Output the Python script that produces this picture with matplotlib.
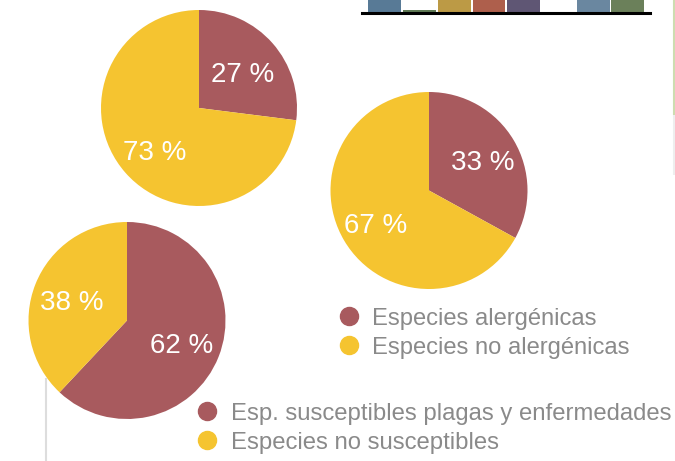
import matplotlib
matplotlib.use("Agg")
import matplotlib.pyplot as plt
from matplotlib.lines import Line2D

plt.rcParams['font.family'] = ['Liberation Sans', 'DejaVu Sans']

W, H = 675, 461

# Pie data (percent): first value red, second yellow
pie_alerg_a = [27, 73]
pie_alerg_b = [33, 67]
pie_plagas = [62, 38]

legend_alerg = ["Especies alergénicas", "Especies no alergénicas"]
legend_plagas = ["Esp. susceptibles plagas y enfermedades", "Especies no susceptibles"]

RED = "#a85a5e"
YEL = "#f5c430"
TXT = "#8a8a8a"

# Fragment of a bar chart at top (cut by figure edge)
bar_cats = [0, 1, 2, 3, 4, 5, 6, 7]
bar_vals = [50, 3, 50, 50, 50, 0, 50, 50]
bar_colors = ["#587a96", "#5f7a55", "#bc9a45", "#ae5f4c", "#5f5674", "#ffffff", "#6a87a0", "#6b805a"]

fig = plt.figure(figsize=(W / 100, H / 100), dpi=100)
ax = fig.add_axes([0, 0, 1, 1])

def draw_pie(vals, cx, cy, r, pctd, dy):
    wedges, texts, autotexts = ax.pie(
        vals, colors=[RED, YEL], startangle=90, counterclock=False,
        center=(cx, H - cy), radius=r, autopct=lambda p: f"{p:.0f} %",
        pctdistance=pctd, wedgeprops=dict(linewidth=0),
        textprops=dict(color="white", fontsize=20))
    for t in autotexts:
        x, y = t.get_position()
        t.set_position((x, y - dy))
    return autotexts

draw_pie(pie_alerg_a, 199, 108, 98, 0.6, 6)
draw_pie(pie_alerg_b, 429, 190.5, 98.5, 0.63, 4)
draw_pie(pie_plagas, 127, 320.5, 98.5, 0.6, 4)

ax.set_xlim(0, W)
ax.set_ylim(0, H)
ax.set_aspect('auto')
ax.axis('off')

# decorative lines
ax.plot([46, 46], [H - 378, 0], color="#dddddd", lw=1.5, solid_capstyle='butt')
ax.plot([674, 674], [H, H - 115], color="#cddcb0", lw=1.5, solid_capstyle='butt')
ax.plot([674, 674], [H - 115, H - 175], color="#eeeeee", lw=1.5, solid_capstyle='butt')

def circ(c):
    return Line2D([], [], marker='o', linestyle='None', markersize=13,
                  markerfacecolor=c, markeredgecolor=c)

leg1 = ax.legend([circ(RED), circ(YEL)], legend_alerg, loc='upper left',
                 bbox_to_anchor=(338 / W, (H - 307.5) / H), bbox_transform=fig.transFigure,
                 frameon=False, fontsize=17.1, labelcolor=TXT, handlelength=0.95,
                 handletextpad=0.5, labelspacing=0.3, borderpad=0, borderaxespad=0)
ax.add_artist(leg1)
leg2 = ax.legend([circ(RED), circ(YEL)], legend_plagas, loc='upper left',
                 bbox_to_anchor=(196 / W, (H - 402.5) / H), bbox_transform=fig.transFigure,
                 frameon=False, fontsize=17.2, labelcolor=TXT, handlelength=0.95,
                 handletextpad=0.5, labelspacing=0.3, borderpad=0, borderaxespad=0)

# bar chart fragment
bx = fig.add_axes([362 / W, (H - 13) / H, (650 - 362) / W, 13 / H])
bx.bar(bar_cats, bar_vals, width=0.95, color=bar_colors)
bx.set_xlim(-0.66, 7.64)
bx.set_ylim(0, 12)
for s in ['top', 'left', 'right']:
    bx.spines[s].set_visible(False)
bx.spines['bottom'].set_linewidth(2.2)
bx.spines['bottom'].set_color('black')
bx.set_xticks([])
bx.set_yticks([])
bx.patch.set_alpha(0)

fig.savefig("out.png", dpi=100)
